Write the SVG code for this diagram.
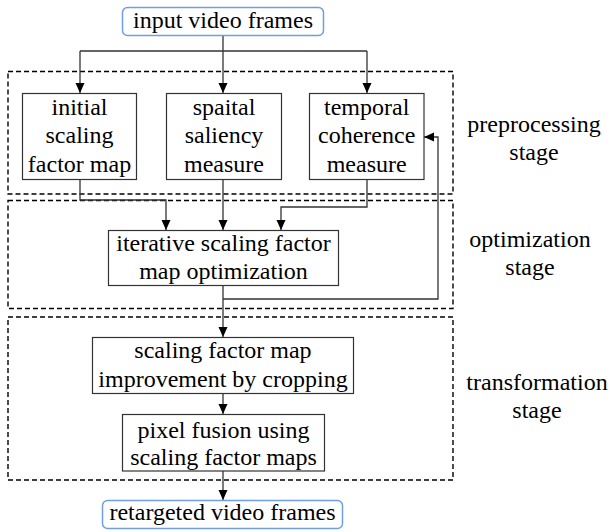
<svg xmlns="http://www.w3.org/2000/svg" width="614" height="532" viewBox="0 0 614 532" font-family="Times New Roman, Liberation Serif, serif">
<defs>
<marker id="ah" markerUnits="userSpaceOnUse" markerWidth="10" markerHeight="10" refX="10" refY="4.5" orient="auto">
<path d="M0,0 L10,4.5 L0,9 z" fill="#000"/>
</marker>
<style>
.box{fill:#fff;stroke:#333;stroke-width:1.2}
.io{fill:#fff;stroke:#6f9fdc;stroke-width:1.5}
.stage{fill:none;stroke:#000;stroke-width:1.4;stroke-dasharray:5,3}
.con{fill:none;stroke:#333;stroke-width:1.3}
.t{font-family:'Times New Roman','Liberation Serif',serif;font-size:24px;text-anchor:middle}
</style>
</defs>
<rect width="614" height="532" fill="#fff"/>
<g id="stages">
<rect class="stage" x="8" y="71.5" width="445" height="122.5"/>
<rect class="stage" x="8" y="200.5" width="445" height="108"/>
<rect class="stage" x="8" y="317" width="445" height="163"/>
</g>
<g id="connectors">
<path class="con" d="M223,35 V51 M80,51 H367"/>
<path class="con" d="M80,51 V93" marker-end="url(#ah)"/>
<path class="con" d="M223,51 V93" marker-end="url(#ah)"/>
<path class="con" d="M367,51 V93" marker-end="url(#ah)"/>
<path class="con" d="M80,179 V200 H166 V230" marker-end="url(#ah)"/>
<path class="con" d="M223,179 V230" marker-end="url(#ah)"/>
<path class="con" d="M367,179 V207 H281 V230" marker-end="url(#ah)"/>
<path class="con" d="M223,285 V337" marker-end="url(#ah)"/>
<path class="con" d="M223,299 H438 V137 H424" marker-end="url(#ah)"/>
<path class="con" d="M223,393 V414" marker-end="url(#ah)"/>
<path class="con" d="M223,471 V500" marker-end="url(#ah)"/>
</g>
<g id="stage-labels">
<text class="t" x="534" y="132">preprocessing</text>
<text class="t" x="534" y="160">stage</text>
<text class="t" x="530" y="247">optimization</text>
<text class="t" x="530" y="275">stage</text>
<text class="t" x="537" y="390">transformation</text>
<text class="t" x="537" y="418">stage</text>
</g>
<g id="input">
<rect class="io" x="122.5" y="7.5" width="201" height="28" rx="5"/>
<text class="t" x="223" y="27.5">input video frames</text>
</g>
<g id="initial">
<rect class="box" x="22.5" y="93.5" width="114" height="86"/>
<text class="t" x="79.5" y="115">initial</text>
<text class="t" x="79.5" y="143">scaling</text>
<text class="t" x="79.5" y="171.5">factor map</text>
</g>
<g id="spatial">
<rect class="box" x="166.5" y="93.5" width="115" height="86"/>
<text class="t" x="224" y="115">spaital</text>
<text class="t" x="224" y="143">saliency</text>
<text class="t" x="224" y="171.5">measure</text>
</g>
<g id="temporal">
<rect class="box" x="309.5" y="93.5" width="114.5" height="86"/>
<text class="t" x="366.7" y="115">temporal</text>
<text class="t" x="366.7" y="143">coherence</text>
<text class="t" x="366.7" y="171.5">measure</text>
</g>
<g id="iterative">
<rect class="box" x="108.5" y="230.5" width="230" height="55"/>
<text class="t" x="223.5" y="250.5">iterative scaling factor</text>
<text class="t" x="223.5" y="279">map optimization</text>
</g>
<g id="cropping">
<rect class="box" x="92.5" y="337.5" width="261" height="56"/>
<text class="t" x="223" y="358">scaling factor map</text>
<text class="t" x="223" y="386.5">improvement by cropping</text>
</g>
<g id="fusion">
<rect class="box" x="122.5" y="414.5" width="202" height="56.5"/>
<text class="t" x="223.5" y="438">pixel fusion using</text>
<text class="t" x="223.5" y="465">scaling factor maps</text>
</g>
<g id="output">
<rect class="io" x="102.5" y="500.5" width="240" height="28" rx="5"/>
<text class="t" x="222.5" y="520">retargeted video frames</text>
</g>
</svg>
